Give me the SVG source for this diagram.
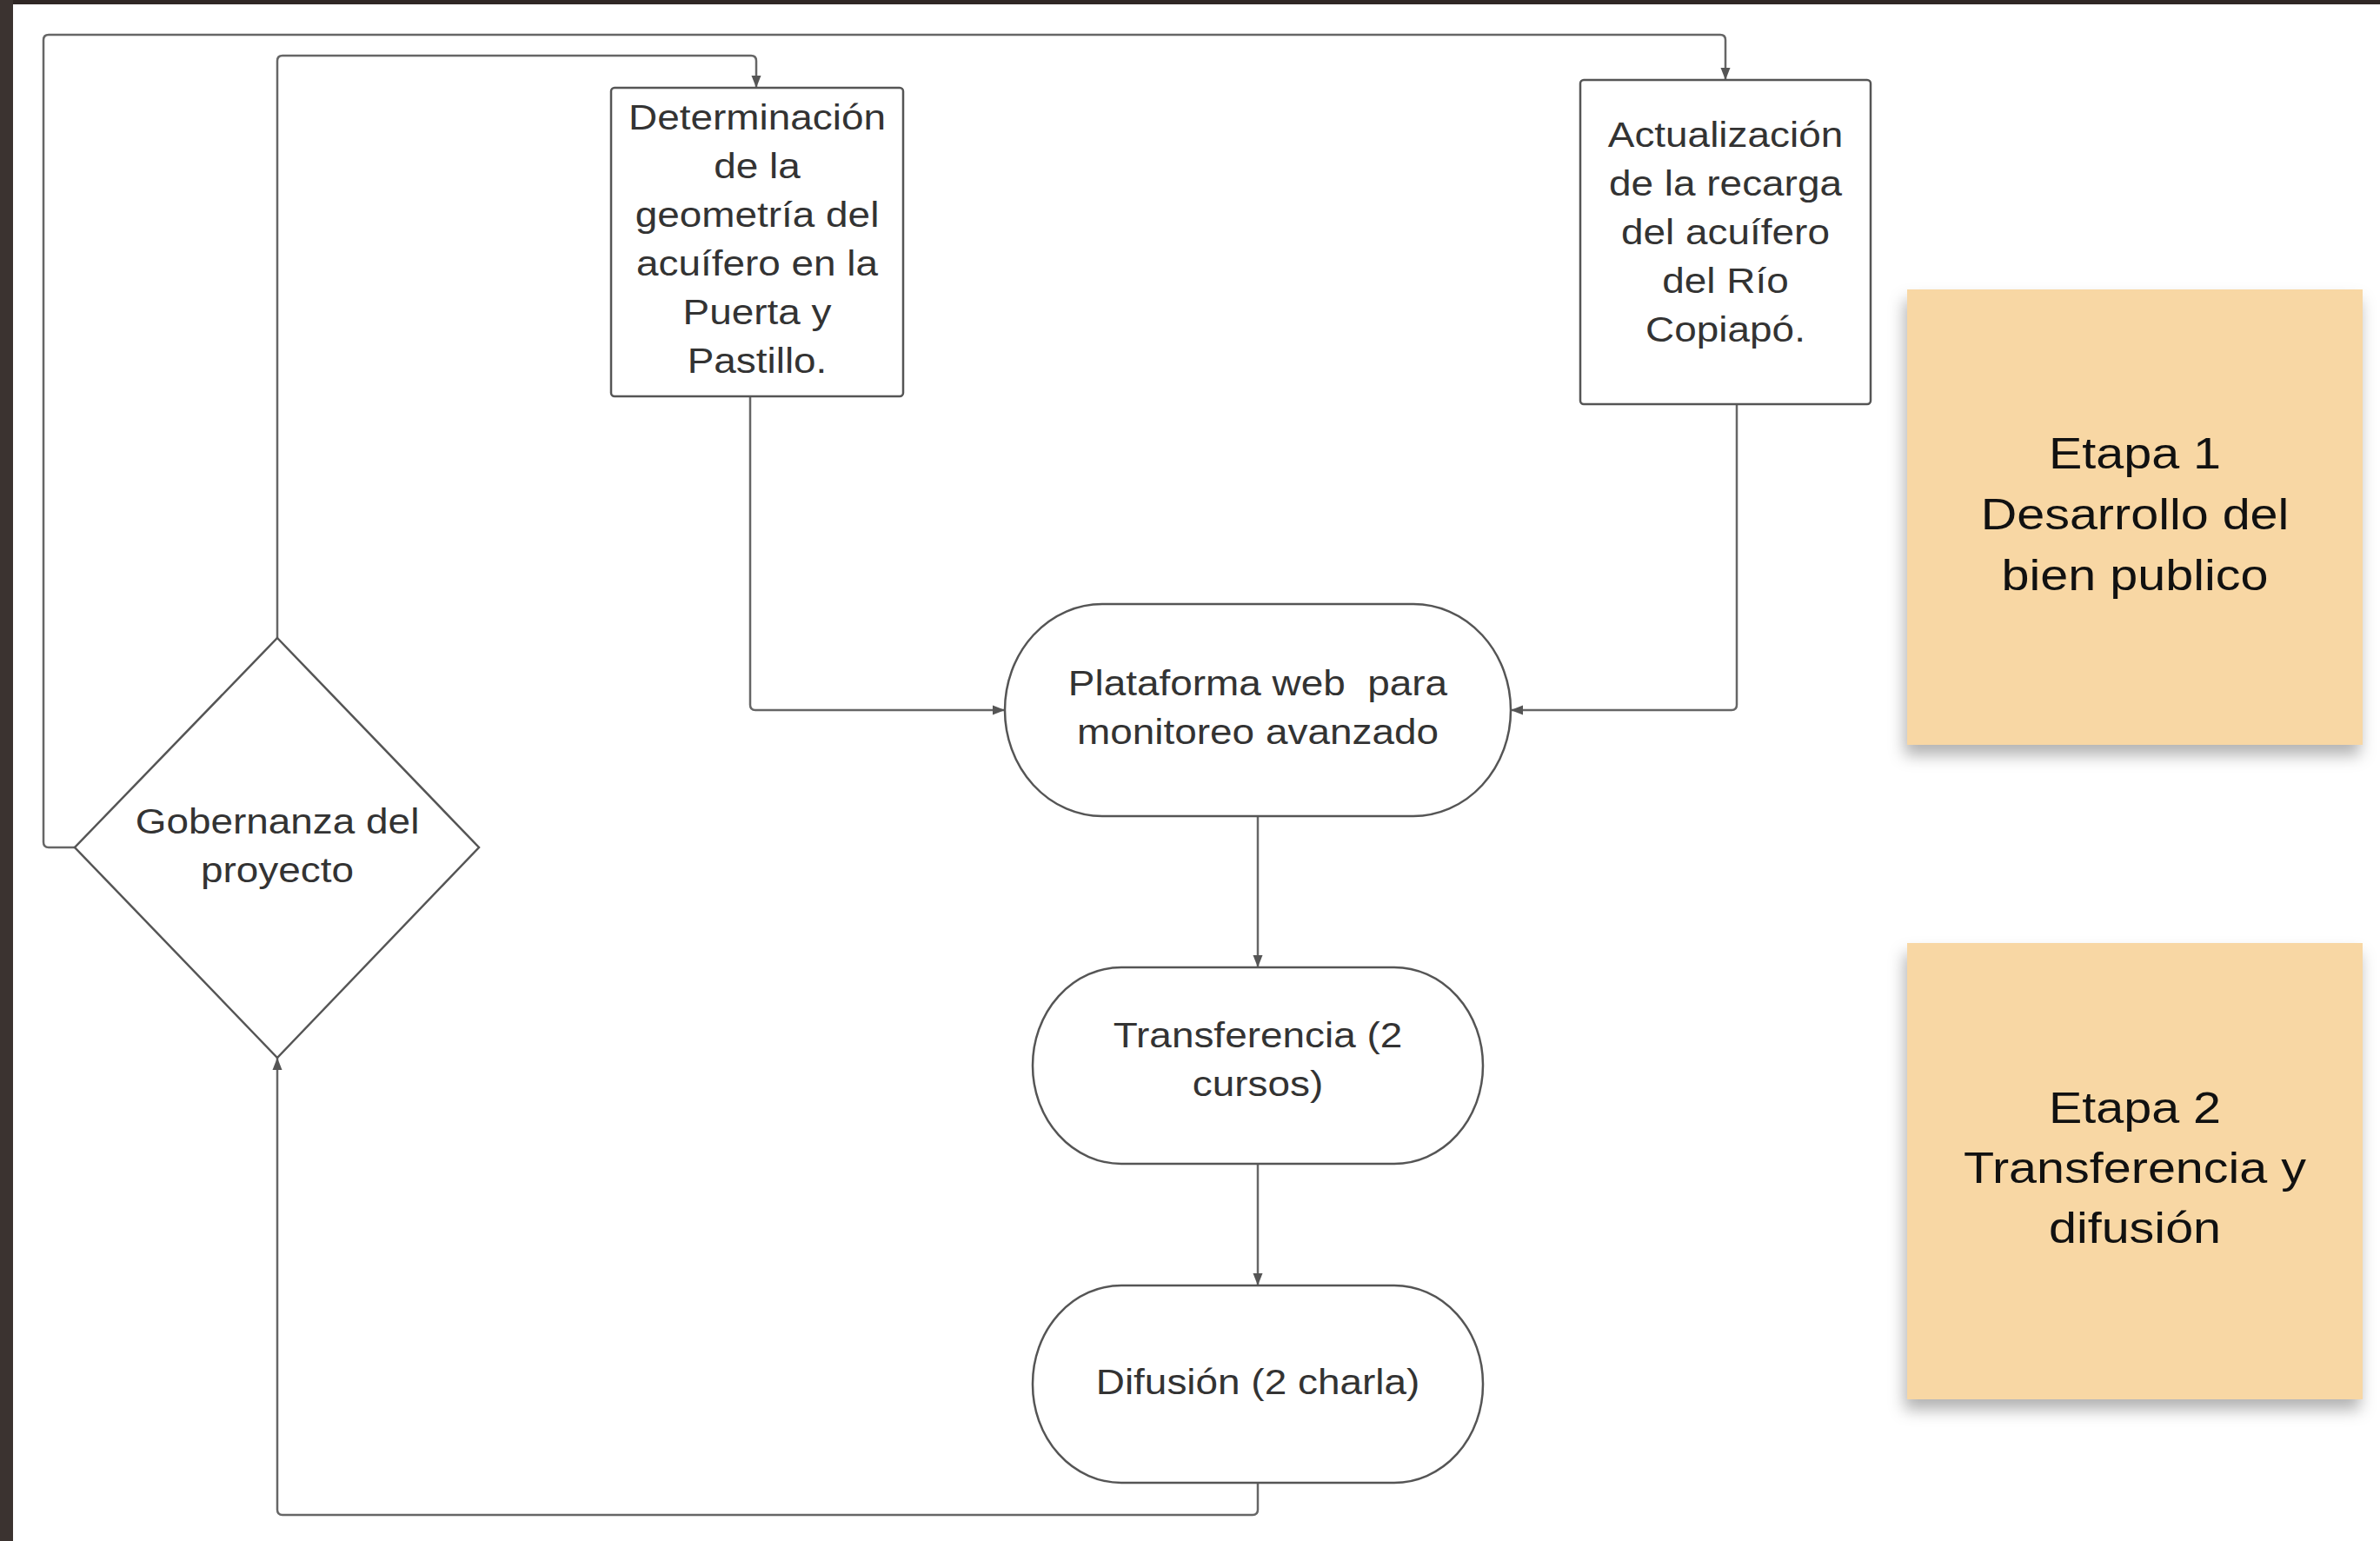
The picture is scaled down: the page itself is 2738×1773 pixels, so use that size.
<svg xmlns="http://www.w3.org/2000/svg" width="2738" height="1773" viewBox="0 0 2738 1773">
<style>
.bx{fill:#fff;stroke:#555;stroke-width:2.5}
.cn{fill:none;stroke:#666;stroke-width:2.5}
.t{font-family:"Liberation Sans",Arial,sans-serif;font-size:41px;fill:#333;text-anchor:middle}
.st{fill:#f8d7a4}
.s{font-family:"Liberation Sans",Arial,sans-serif;font-size:50px;fill:#111;text-anchor:middle}
</style>
<defs>
<marker id="ah" markerUnits="userSpaceOnUse" markerWidth="14" markerHeight="12" refX="14" refY="6" orient="auto">
<path d="M0,0.5 L14,6 L0,11.5 z" fill="#555"/>
</marker>
<filter id="sh" x="-10%" y="-10%" width="120%" height="130%">
<feDropShadow dx="-3" dy="12" stdDeviation="9" flood-color="#000" flood-opacity="0.3"/>
</filter>
</defs>
<rect x="0" y="0" width="2738" height="1773" fill="#fff"/>
<rect x="0" y="0" width="2738" height="5" fill="#2f2725"/>
<rect x="0" y="0" width="15" height="1773" fill="#3b3330"/>

<g id="connectors">
<path class="cn" d="M863,456 V811 Q863,817 869,817 H1156" marker-end="url(#ah)"/>
<path class="cn" d="M1998,465 V811 Q1998,817 1992,817 H1738" marker-end="url(#ah)"/>
<path class="cn" d="M1447,939 V1113" marker-end="url(#ah)"/>
<path class="cn" d="M1447,1339 V1479" marker-end="url(#ah)"/>
<path class="cn" d="M1447,1706 V1737 Q1447,1743 1441,1743 H325 Q319,1743 319,1737 V1217" marker-end="url(#ah)"/>
<path class="cn" d="M319,734 V70 Q319,64 325,64 H864 Q870,64 870,70 V101" marker-end="url(#ah)"/>
<path class="cn" d="M86,975 H56 Q50,975 50,969 V46 Q50,40 56,40 H1979 Q1985,40 1985,46 V92" marker-end="url(#ah)"/>
</g>

<g id="determinacion">
<rect class="bx" x="703" y="101" width="336" height="355" rx="4"/>
<g transform="translate(871,0) scale(1.12,1)">
<text class="t" x="0" y="149">Determinación</text>
<text class="t" x="0" y="205">de la</text>
<text class="t" x="0" y="261">geometría del</text>
<text class="t" x="0" y="317">acuífero en la</text>
<text class="t" x="0" y="373">Puerta y</text>
<text class="t" x="0" y="429">Pastillo.</text>
</g>
</g>

<g id="actualizacion">
<rect class="bx" x="1818" y="92" width="334" height="373" rx="4"/>
<g transform="translate(1985,0) scale(1.12,1)">
<text class="t" x="0" y="169">Actualización</text>
<text class="t" x="0" y="225">de la recarga</text>
<text class="t" x="0" y="281">del acuífero</text>
<text class="t" x="0" y="337">del Río</text>
<text class="t" x="0" y="393">Copiapó.</text>
</g>
</g>

<g id="plataforma">
<rect class="bx" x="1156" y="695" width="582" height="244" rx="112" ry="122"/>
<g transform="translate(1447,0) scale(1.12,1)">
<text class="t" x="0" y="800" xml:space="preserve">Plataforma web  para</text>
<text class="t" x="0" y="856">monitoreo avanzado</text>
</g>
</g>

<g id="transferencia">
<rect class="bx" x="1188" y="1113" width="518" height="226" rx="102" ry="113"/>
<g transform="translate(1447,0) scale(1.12,1)">
<text class="t" x="0" y="1205">Transferencia (2</text>
<text class="t" x="0" y="1261">cursos)</text>
</g>
</g>

<g id="difusion">
<rect class="bx" x="1188" y="1479" width="518" height="227" rx="102" ry="113"/>
<g transform="translate(1447,0) scale(1.12,1)">
<text class="t" x="0" y="1604">Difusión (2 charla)</text>
</g>
</g>

<g id="gobernanza">
<path class="bx" d="M319,734 L551,975 L319,1217 L86,975 Z"/>
<g transform="translate(319,0) scale(1.12,1)">
<text class="t" x="0" y="959">Gobernanza del</text>
<text class="t" x="0" y="1015">proyecto</text>
</g>
</g>

<g id="etapa1">
<rect class="st" x="2194" y="333" width="524" height="524" filter="url(#sh)"/>
<g transform="translate(2456,0) scale(1.15,1)">
<text class="s" x="0" y="539">Etapa 1</text>
<text class="s" x="0" y="609">Desarrollo del</text>
<text class="s" x="0" y="679">bien publico</text>
</g>
</g>

<g id="etapa2">
<rect class="st" x="2194" y="1085" width="524" height="525" filter="url(#sh)"/>
<g transform="translate(2456,0) scale(1.15,1)">
<text class="s" x="0" y="1292">Etapa 2</text>
<text class="s" x="0" y="1361">Transferencia y</text>
<text class="s" x="0" y="1430">difusión</text>
</g>
</g>
</svg>
